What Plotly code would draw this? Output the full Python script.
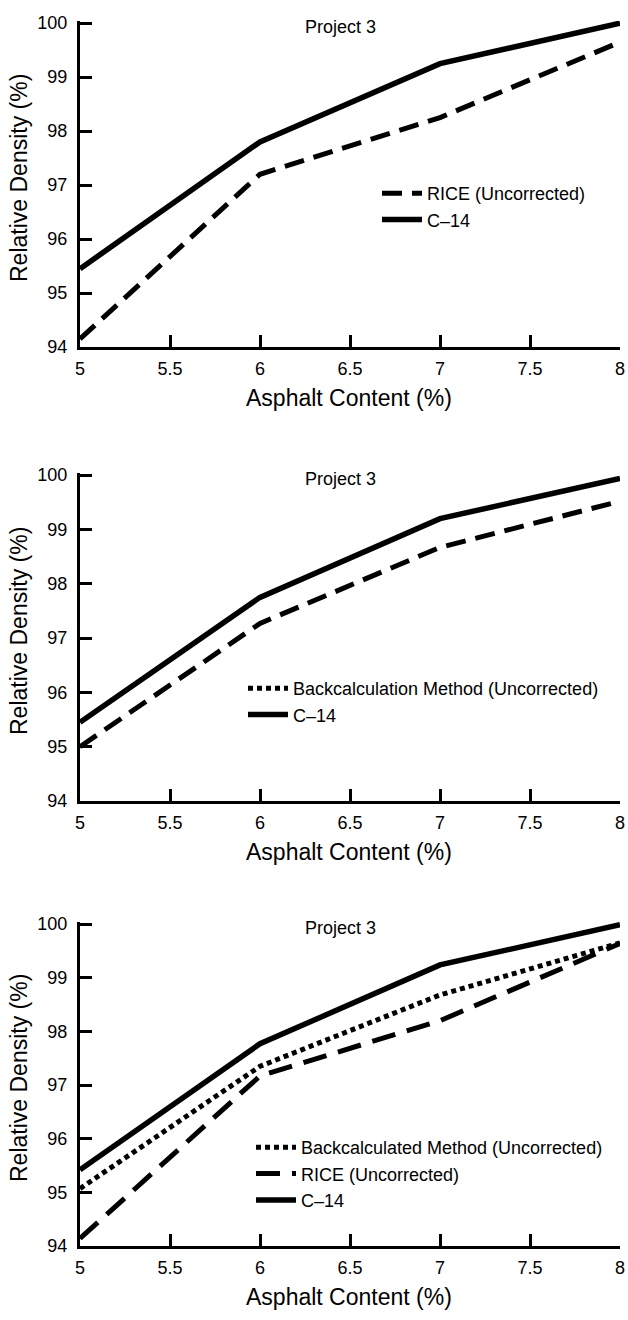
import plotly.graph_objects as go

# Asphalt content (%) at which relative density was evaluated
asphalt_content = [5, 6, 7, 8]

# Panel 1: RICE vs C-14
p1_rice = [94.15, 97.2, 98.25, 99.65]
p1_c14 = [95.45, 97.8, 99.25, 100.0]

# Panel 2: backcalculation vs C-14
p2_backcalc = [95.0, 97.27, 98.67, 99.52]
p2_c14 = [95.45, 97.75, 99.2, 99.94]

# Panel 3: all three methods
p3_backcalc = [95.07, 97.35, 98.68, 99.65]
p3_rice = [94.14, 97.17, 98.2, 99.64]
p3_c14 = [95.42, 97.77, 99.24, 99.99]

x_ticks = [5, 5.5, 6, 6.5, 7, 7.5, 8]
x_tick_labels = ["5", "5.5", "6", "6.5", "7", "7.5", "8"]
y_ticks = [94, 95, 96, 97, 98, 99, 100]
y_tick_labels = ["94", "95", "96", "97", "98", "99", "100"]

panel_title = "Project 3"
x_title = "Asphalt Content (%)"
y_title = "Relative Density (%)"

FONT = "Liberation Sans, Arial, sans-serif"
W, H = 628, 1320
ML, MR = 80, 8
PW = W - ML - MR

def py(px):
    """page pixel row -> paper y"""
    return 1 - px / H

def pxx(px):
    """page pixel column -> paper x"""
    return (px - ML) / PW

# vertical extent (page pixels) of each plotting area: (top, bottom)
panels = [(21, 347), (473, 801), (922, 1246)]

fig = go.Figure()

solid = dict(color="black", width=5.5)
rice_dash = dict(color="black", width=5, dash="20px,10px")
rice_dash3 = dict(color="black", width=5, dash="24px,12px")
dot = dict(color="black", width=5, dash="5px,4px")

# panel 1
fig.add_trace(go.Scatter(x=asphalt_content, y=p1_rice, mode="lines", line=rice_dash,
                         name="RICE (Uncorrected)", xaxis="x", yaxis="y", legend="legend"))
fig.add_trace(go.Scatter(x=asphalt_content, y=p1_c14, mode="lines", line=solid,
                         name="C\u201314", xaxis="x", yaxis="y", legend="legend"))

# panel 2
fig.add_trace(go.Scatter(x=asphalt_content, y=p2_backcalc, mode="lines", line=rice_dash,
                         name="Backcalculation Method (Uncorrected)", showlegend=False,
                         xaxis="x2", yaxis="y2"))
fig.add_trace(go.Scatter(x=[None], y=[None], mode="lines", line=dot,
                         name="Backcalculation Method (Uncorrected)",
                         xaxis="x2", yaxis="y2", legend="legend2"))
fig.add_trace(go.Scatter(x=asphalt_content, y=p2_c14, mode="lines", line=solid,
                         name="C\u201314", xaxis="x2", yaxis="y2", legend="legend2"))

# panel 3
fig.add_trace(go.Scatter(x=asphalt_content, y=p3_backcalc, mode="lines", line=dot,
                         name="Backcalculated Method (Uncorrected)",
                         xaxis="x3", yaxis="y3", legend="legend3"))
fig.add_trace(go.Scatter(x=asphalt_content, y=p3_rice, mode="lines", line=rice_dash3,
                         name="RICE (Uncorrected)", xaxis="x3", yaxis="y3", legend="legend3"))
fig.add_trace(go.Scatter(x=asphalt_content, y=p3_c14, mode="lines", line=solid,
                         name="C\u201314", xaxis="x3", yaxis="y3", legend="legend3"))

axis_common = dict(showline=True, linewidth=3, linecolor="black", ticks="inside",
                   ticklen=12, tickwidth=3, tickcolor="black", showgrid=False,
                   zeroline=False, tickfont=dict(family=FONT, size=18, color="black"))

layout = dict(width=W, height=H,
              margin=dict(l=ML, r=MR, t=0, b=0, autoexpand=False),
              paper_bgcolor="white", plot_bgcolor="white",
              font=dict(family=FONT, color="black"))

annotations = []
names = ["", "2", "3"]
legend_tops = [175, 670, 1129]
legend_lefts = [377, 243, 251]
for i, (top, bot) in enumerate(panels):
    n = names[i]
    layout["xaxis" + n] = dict(axis_common, domain=[0, 1], range=[5, 8],
                               tickvals=x_ticks, ticktext=x_tick_labels,
                               anchor="y" + n, ticklabelstandoff=3)
    layout["yaxis" + n] = dict(axis_common, domain=[py(bot), py(top)], range=[94, 100.04],
                               tickvals=y_ticks, ticktext=y_tick_labels,
                               anchor="x" + n, ticklabelstandoff=6)
    lg = "legend" if i == 0 else "legend" + n
    layout[lg] = dict(x=pxx(legend_lefts[i]), xanchor="left", y=py(legend_tops[i]),
                      yanchor="top", bgcolor="rgba(0,0,0,0)", borderwidth=0,
                      font=dict(family=FONT, size=18, color="black"),
                      tracegroupgap=0, itemwidth=40)
    annotations.append(dict(text=panel_title, xref="paper", yref="paper",
                            x=pxx(340), y=py(top + 6), xanchor="center", yanchor="middle",
                            showarrow=False, font=dict(family=FONT, size=18)))
    annotations.append(dict(text=x_title, xref="paper", yref="paper",
                            x=pxx(349), y=py(bot + 51), xanchor="center", yanchor="middle",
                            showarrow=False, font=dict(family=FONT, size=23)))
    annotations.append(dict(text=y_title, xref="paper", yref="paper", textangle=-90,
                            x=pxx(19), y=py((top + bot) / 2 - 6), xanchor="center",
                            yanchor="middle", showarrow=False,
                            font=dict(family=FONT, size=23)))

layout["annotations"] = annotations
fig.update_layout(**layout)
fig.write_html("out.html")
